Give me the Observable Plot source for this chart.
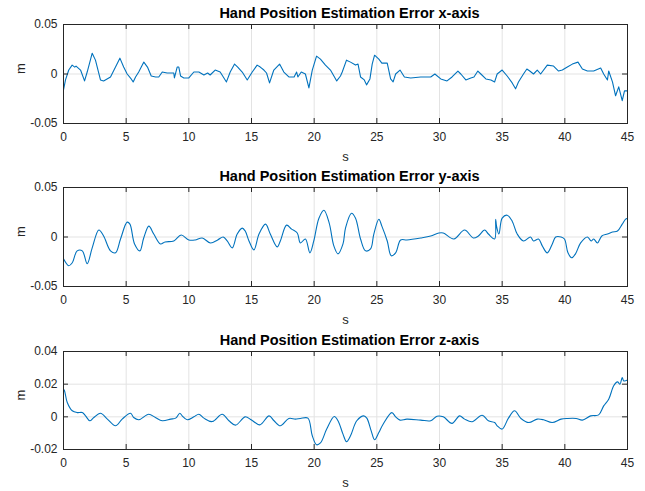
<!DOCTYPE html>
<html><head><meta charset="utf-8">
<script src="https://cdn.jsdelivr.net/npm/d3@7"></script>
<script src="https://cdn.jsdelivr.net/npm/@observablehq/plot@0.6"></script>
<style>body{margin:0;background:#fff} svg{display:block}</style>
</head><body><div id="chart"></div>
<script>
// ---- data ----
const xTicks = [0, 5, 10, 15, 20, 25, 30, 35, 40, 45];
const yTicksXY = [-0.05, 0, 0.05];
const yTicksZ = [-0.02, 0, 0.02, 0.04];
const titles = ["Hand Position Estimation Error x-axis", "Hand Position Estimation Error y-axis", "Hand Position Estimation Error z-axis"];
const xLabel = "s";
const yLabel = "m";

// [time s, error m]
const errX = [[0,-0.016],[0.16,-0.006],[0.42,0.004],[0.69,0.009],[0.9,0.007],[1.0,0.008],[1.36,0.004],[1.68,-0.007],[1.89,0.002],[2.29,0.021],[2.55,0.014],[2.95,-0.006],[3.2,-0.007],[3.75,-0.003],[4.15,0.007],[4.5,0.016],[4.8,0.007],[5.08,0.0],[5.4,-0.005],[5.56,-0.008],[5.75,-0.003],[6.0,0.002],[6.41,0.012],[6.7,0.007],[7.0,-0.002],[7.35,-0.003],[7.6,-0.003],[7.88,0.002],[8.27,0.001],[8.8,0.001],[8.85,-0.004],[9.07,0.007],[9.2,0.007],[9.34,-0.002],[9.6,-0.004],[10.0,-0.004],[10.4,0.002],[10.8,0.002],[11.2,-0.001],[11.5,0.001],[11.7,-0.001],[12.1,0.004],[12.5,0.002],[13.0,-0.008],[13.3,0.002],[13.65,0.010],[13.9,0.007],[14.26,0.002],[14.66,-0.006],[15.06,0.002],[15.45,0.009],[15.7,0.007],[15.99,0.004],[16.2,0.001],[16.44,-0.009],[16.78,0.004],[17.24,0.010],[17.58,0.002],[17.98,-0.003],[18.4,-0.003],[18.6,0.002],[18.7,-0.003],[18.97,0.002],[19.3,0.0],[19.58,-0.014],[19.85,0.004],[20.19,0.018],[20.5,0.015],[20.9,0.009],[21.3,0.004],[21.8,-0.007],[22.1,-0.002],[22.24,0.002],[22.58,0.014],[22.9,0.012],[23.3,0.009],[23.5,0.010],[23.7,-0.003],[24.0,-0.006],[24.18,-0.011],[24.45,-0.005],[24.63,0.010],[24.82,0.019],[25.16,0.015],[25.4,0.011],[25.83,0.011],[26.1,-0.005],[26.3,-0.008],[26.5,0.0],[26.85,0.004],[27.2,-0.003],[27.7,-0.004],[28.5,-0.003],[29.3,-0.003],[29.63,0.0],[30.1,-0.005],[30.6,-0.007],[31.0,-0.003],[31.47,0.003],[31.7,0.0],[32.1,-0.006],[32.5,-0.004],[32.75,-0.003],[33.06,0.003],[33.3,0.0],[33.7,-0.005],[34.1,-0.006],[34.4,-0.008],[34.6,0.0],[35.0,0.004],[35.4,-0.002],[35.8,-0.009],[36.07,-0.015],[36.3,-0.008],[36.7,0.0],[36.97,0.005],[37.2,0.003],[37.5,0.0],[37.8,0.004],[38.07,0.0],[38.6,0.009],[39.1,0.008],[39.5,0.003],[39.8,0.004],[40.2,0.007],[40.6,0.010],[41.05,0.012],[41.4,0.005],[41.8,0.003],[42.3,0.003],[42.86,0.006],[43.1,0.0],[43.4,-0.006],[43.5,0.003],[43.8,-0.008],[44.05,-0.022],[44.3,-0.013],[44.58,-0.027],[44.76,-0.017],[45,-0.017]];

const errY = [[0,-0.022],[0.42,-0.029],[0.7,-0.026],[1.09,-0.014],[1.5,-0.014],[1.89,-0.027],[2.29,-0.011],[2.82,0.007],[3.2,0.001],[3.75,-0.014],[4.15,-0.016],[4.55,-0.002],[5.08,0.015],[5.3,0.013],[5.67,-0.007],[6.09,-0.014],[6.4,-0.001],[6.81,0.011],[7.2,0.003],[7.74,-0.007],[8.1,-0.005],[8.8,-0.004],[9.39,0.002],[10.0,-0.003],[10.5,-0.003],[11.07,-0.001],[11.73,-0.006],[12.3,-0.003],[12.74,0],[13.06,-0.004],[13.46,-0.011],[13.86,0.003],[14.26,0.009],[14.5,0.006],[14.8,-0.004],[15.19,-0.013],[15.6,0.003],[16.12,0.013],[16.5,0.003],[17.05,-0.010],[17.3,-0.004],[17.8,0.012],[18.2,0.008],[18.65,0.004],[18.9,-0.006],[19.3,-0.002],[19.66,-0.016],[19.97,-0.004],[20.38,0.019],[20.78,0.027],[21.2,0.014],[21.57,-0.009],[21.9,-0.017],[22.3,-0.007],[22.5,0.009],[22.98,0.024],[23.3,0.019],[23.7,-0.002],[24.1,-0.014],[24.5,-0.012],[24.76,0.003],[25.16,0.018],[25.4,0.011],[25.83,-0.004],[26.15,-0.019],[26.5,-0.016],[26.9,-0.003],[27.4,-0.003],[28.5,-0.001],[29.3,0.001],[29.95,0.004],[30.3,0.004],[31.15,-0.002],[32.0,0.007],[32.7,-0.001],[33.1,0.001],[33.6,0.007],[33.9,0.003],[34.4,-0.002],[34.48,0.018],[34.55,0.011],[34.74,0.003],[35.0,0.019],[35.4,0.022],[35.8,0.016],[36.2,0.003],[36.7,-0.004],[37.26,0],[37.5,-0.004],[37.9,-0.002],[38.2,-0.009],[38.6,-0.016],[39.0,-0.007],[39.27,0],[39.7,0],[39.97,-0.002],[40.25,-0.016],[40.54,-0.021],[40.85,-0.017],[41.26,-0.006],[41.8,0],[42.1,-0.004],[42.3,-0.002],[42.6,-0.006],[42.95,0.001],[43.4,0.003],[43.8,0.005],[44.2,0.006],[44.58,0.013],[44.85,0.018],[45,0.019]];

const errZ = [[0,0.017],[0.08,0.016],[0.3,0.0088],[0.7,0.0037],[1.09,0.0026],[1.5,0.0026],[1.76,0.0006],[2.1,-0.0024],[2.42,-0.0004],[2.95,0.0022],[3.5,-0.0014],[4.15,-0.0055],[4.68,-0.0014],[5.35,0.0022],[5.6,-0.0004],[6.0,-0.0018],[6.8,0.0016],[7.33,-0.0004],[7.88,-0.0024],[8.55,-0.0014],[8.95,-0.0008],[9.28,0.0022],[9.47,0.0006],[9.87,-0.0018],[10.4,0],[10.8,0.0016],[11.2,-0.0008],[11.86,-0.0029],[12.66,0.0016],[13.2,-0.0024],[13.73,-0.0051],[14.5,0],[15.0,-0.002],[15.67,-0.0049],[16.4,0.0006],[16.8,-0.0024],[17.3,-0.0055],[17.98,-0.001],[18.5,-0.0014],[18.9,-0.001],[19.5,-0.0008],[19.85,-0.0116],[20.19,-0.0171],[20.5,-0.016],[21.0,-0.0075],[21.6,0.0002],[21.9,-0.0024],[22.3,-0.0106],[22.58,-0.0152],[22.9,-0.0116],[23.4,-0.0024],[23.96,0.0006],[24.2,-0.0008],[24.55,-0.0086],[24.82,-0.014],[25.16,-0.0096],[25.5,-0.0045],[26.2,0.0026],[26.5,0],[26.85,-0.002],[27.4,-0.0014],[28.5,-0.002],[29.3,-0.0024],[29.8,0.0004],[30.3,0],[31.0,-0.004],[31.6,0.0006],[32.0,-0.0014],[32.6,-0.003],[33.4,0.001],[33.9,-0.0024],[34.4,-0.0035],[34.6,-0.0055],[35.0,-0.0075],[35.5,-0.0008],[35.99,0.0037],[36.5,-0.001],[37.13,-0.0035],[37.8,-0.0014],[38.3,-0.0018],[38.99,-0.0035],[39.7,-0.0014],[40.2,-0.001],[40.9,-0.001],[41.4,-0.002],[42.06,0.0006],[42.7,0.0012],[43.1,0.0067],[43.5,0.0108],[43.9,0.019],[44.2,0.0214],[44.4,0.020],[44.58,0.024],[44.7,0.022],[45,0.0225]];

// ---- drawing ----
const fmt = d => d === 0 ? "0" : String(d);
const AX = "#262626";
function panel({data, title, yDomain, yTicks, height, marginTop, marginBottom, curve}) {
  const W = 645, ML = 63, MR = 18, TL = 5;
  const fh = height - marginTop - marginBottom, fw = W - ML - MR;
  return Plot.plot({
    width: W, height, marginLeft: ML, marginRight: MR, marginTop, marginBottom,
    style: {fontFamily: "'Liberation Sans', Arial, Helvetica, sans-serif", fontSize: "12px", color: AX, background: "#fff", overflow: "visible"},
    x: {domain: [0, 45]},
    y: {domain: yDomain},
    marks: [
      Plot.ruleX(xTicks, {x: d => d, stroke: "#e3e3e3"}),
      Plot.ruleY(yTicks, {y: d => d, stroke: "#e3e3e3"}),
      Plot.line(data, {x: d => d[0], y: d => d[1], stroke: "#0072BD", strokeWidth: 1.1, curve}),
      Plot.frame({stroke: AX}),
      Plot.tickX(xTicks, {x: d => d, insetTop: fh - TL, stroke: AX}),
      Plot.tickX(xTicks, {x: d => d, insetBottom: fh - TL, stroke: AX}),
      Plot.tickY(yTicks, {y: d => d, insetRight: fw - TL, stroke: AX}),
      Plot.tickY(yTicks, {y: d => d, insetLeft: fw - TL, stroke: AX}),
      Plot.axisX(xTicks, {tickSize: 0, tickPadding: 9, tickFormat: fmt, label: null}),
      Plot.axisY(yTicks, {tickSize: 0, tickPadding: 6, tickFormat: fmt, label: null}),
      Plot.text([title], {text: d => d, frameAnchor: "top", lineAnchor: "middle", dy: -11, dx: 4, fontWeight: "bold", fontSize: 14.5, fill: "#000"}),
      Plot.text([xLabel], {text: d => d, frameAnchor: "bottom", lineAnchor: "middle", dy: 33, fontSize: 13, fill: AX}),
      Plot.text([yLabel], {text: d => d, frameAnchor: "left", lineAnchor: "middle", dx: -43, rotate: -90, fontSize: 13, fill: AX})
    ]
  });
}
const el = document.getElementById("chart");
el.append(panel({data: errX, title: titles[0], yDomain: [-0.05, 0.05], yTicks: yTicksXY, height: 163, marginTop: 24, marginBottom: 40, curve: "linear"}));
el.append(panel({data: errY, title: titles[1], yDomain: [-0.05, 0.05], yTicks: yTicksXY, height: 164, marginTop: 24, marginBottom: 41, curve: "catmull-rom"}));
el.append(panel({data: errZ, title: titles[2], yDomain: [-0.02, 0.04], yTicks: yTicksZ, height: 164, marginTop: 24, marginBottom: 42, curve: "catmull-rom"}));
</script>
</body></html>
